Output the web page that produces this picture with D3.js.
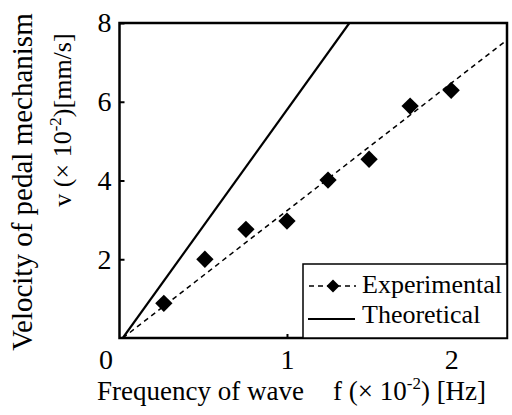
<!DOCTYPE html>
<html>
<head>
<meta charset="utf-8">
<script src="https://cdn.jsdelivr.net/npm/d3@7"></script>
<style>
  body { margin: 0; background: #fff; }
</style>
</head>
<body>
<div id="chart-area"></div>
<script>
// experimental points
const freq = [0.25, 0.5, 0.75, 1.0, 1.25, 1.5, 1.75, 2.0];
const velocity = [0.88, 2.0, 2.76, 2.97, 4.01, 4.54, 5.89, 6.29];

// straight lines: dashed fit through the points, solid theory
const fitLine = [[0, 0], [2.34, 7.57]];
const theoryLine = [[0, 0], [1.38, 8]];

const xTicks = [1, 2];
const yTicks = [2, 4, 6, 8];

const FONT = '"Liberation Serif", "Times New Roman", Times, "DejaVu Serif", serif';

const chart = { width: 512, height: 415 };
const plot = { left: 119.5, right: 507, top: 23, bottom: 338 };

const x = d3.scaleLinear().domain([-0.02, 2.34]).range([plot.left, plot.right]);
const y = d3.scaleLinear().domain([0, 8]).range([plot.bottom, plot.top]);

const svg = d3.select("#chart-area")
  .append("svg")
  .attr("width", chart.width)
  .attr("height", chart.height)
  .attr("font-family", FONT);

svg.append("defs")
  .append("clipPath").attr("id", "clip")
  .append("rect")
  .attr("x", plot.left).attr("y", plot.top)
  .attr("width", plot.right - plot.left)
  .attr("height", plot.bottom - plot.top);

const line = d3.line().x(d => x(d[0])).y(d => y(d[1]));

const lines = svg.append("g").attr("clip-path", "url(#clip)");

lines.append("path")
  .datum(theoryLine)
  .attr("d", line)
  .attr("fill", "none")
  .attr("stroke", "#000")
  .attr("stroke-width", 2.2);

lines.append("path")
  .datum(fitLine)
  .attr("d", line)
  .attr("fill", "none")
  .attr("stroke", "#000")
  .attr("stroke-width", 1.5)
  .attr("stroke-dasharray", "5,4");

const diamond = d3.symbol().type(d3.symbolSquare);

svg.append("g")
  .selectAll("path")
  .data(freq)
  .enter()
  .append("path")
  .attr("d", diamond.size(150))
  .attr("transform", (f, i) => `translate(${x(f)},${y(velocity[i])}) rotate(45)`)
  .attr("fill", "#000");

// axes with inward ticks
const yAxis = d3.axisLeft(y).tickValues(yTicks).tickFormat(d3.format("d"))
  .tickSizeInner(-5).tickSizeOuter(0).tickPadding(8);
const xAxis = d3.axisBottom(x).tickValues(xTicks).tickFormat(d3.format("d"))
  .tickSizeInner(-4).tickSizeOuter(0).tickPadding(11);

const yg = svg.append("g").attr("transform", `translate(${plot.left},0)`).call(yAxis);
const xg = svg.append("g").attr("transform", `translate(0,${plot.bottom})`).call(xAxis);

[yg, xg].forEach(g => {
  g.attr("font-family", FONT).attr("font-size", 28);
  g.select(".domain").remove();
  g.selectAll("line").attr("stroke", "#000").attr("stroke-width", 2);
  g.selectAll("text").attr("fill", "#000");
});

// the shared origin label sits below-left of the corner
svg.append("text")
  .text("0")
  .attr("x", 113)
  .attr("y", 369)
  .attr("text-anchor", "end")
  .attr("font-size", 28);

// frame
svg.append("rect")
  .attr("x", plot.left).attr("y", plot.top)
  .attr("width", plot.right - plot.left)
  .attr("height", plot.bottom - plot.top)
  .attr("fill", "none")
  .attr("stroke", "#000")
  .attr("stroke-width", 2.5);

// legend
const legend = svg.append("g");
legend.append("rect")
  .attr("x", 303).attr("y", 264)
  .attr("width", plot.right - 303)
  .attr("height", plot.bottom - 264)
  .attr("fill", "#fff")
  .attr("stroke", "#000")
  .attr("stroke-width", 1.5);

legend.append("line")
  .attr("x1", 309).attr("x2", 356).attr("y1", 286).attr("y2", 286)
  .attr("stroke", "#000").attr("stroke-width", 1.5)
  .attr("stroke-dasharray", "5,4");
legend.append("path")
  .attr("d", diamond.size(85))
  .attr("transform", "translate(333,286) rotate(45)")
  .attr("fill", "#000");
legend.append("text")
  .text("Experimental")
  .attr("x", 362).attr("y", 293)
  .attr("font-size", 26);

legend.append("line")
  .attr("x1", 308).attr("x2", 355).attr("y1", 319).attr("y2", 319)
  .attr("stroke", "#000").attr("stroke-width", 2);
legend.append("text")
  .text("Theoretical")
  .attr("x", 362).attr("y", 323)
  .attr("font-size", 26);

// axis labels
const xl = svg.append("text")
  .attr("x", 97).attr("y", 400)
  .attr("font-size", 27);
xl.append("tspan").text("Frequency of wave");
xl.append("tspan").attr("x", 333).text("f (\u00d7 10");
xl.append("tspan").attr("dy", -11).attr("font-size", 17).text("-2");
xl.append("tspan").attr("dy", 11).text(") [Hz]");

svg.append("text")
  .attr("transform", "translate(32,182) rotate(-90)")
  .attr("text-anchor", "middle")
  .attr("font-size", 29)
  .text("Velocity of pedal mechanism");

const yl = svg.append("text")
  .attr("transform", "translate(71,120) rotate(-90)")
  .attr("text-anchor", "middle")
  .attr("font-size", 26);
yl.append("tspan").text("v (\u00d7 10");
yl.append("tspan").attr("dy", -10).attr("font-size", 17).text("-2");
yl.append("tspan").attr("dy", 10).text(")[mm/s]");
</script>
</body>
</html>
